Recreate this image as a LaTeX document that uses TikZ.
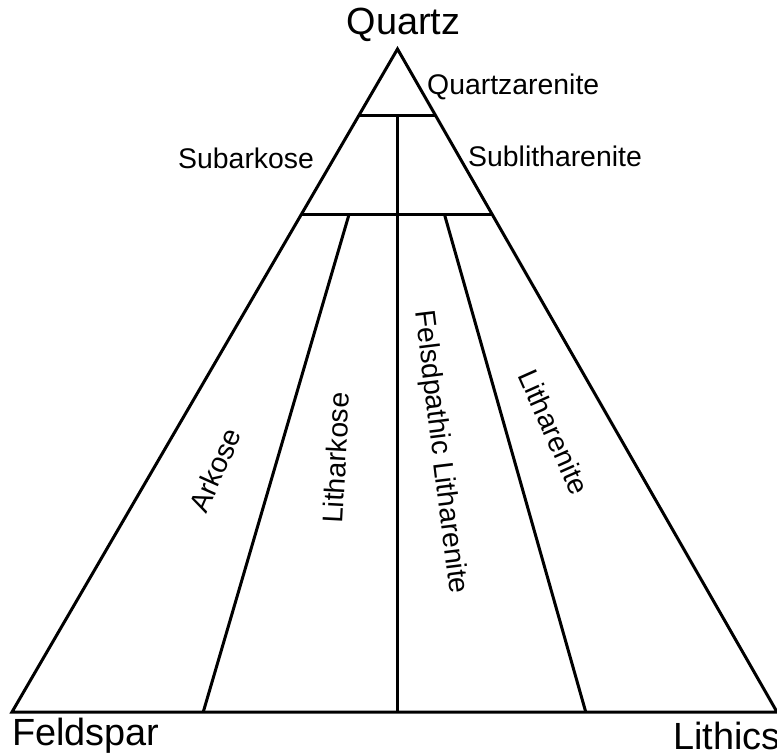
\documentclass[tikz,border=0pt]{standalone}
\usepackage{fontspec}
\setmainfont{Liberation Sans}
\usetikzlibrary{calc}
\tikzset{
  corner/.style={font=\fontsize{38}{40}\selectfont, inner sep=0pt},
  field/.style={font=\fontsize{28.5}{30}\selectfont, inner sep=0pt},
  bound/.style={line width=3bp, line join=miter}
}
\begin{document}
\begin{tikzpicture}[x=1bp, y=-1bp]
  \useasboundingbox (0,0) rectangle (777,755);
  \coordinate (Q) at (397.5,49);
  \coordinate (F) at (12,712);
  \coordinate (L) at (777,712);
  \coordinate (q90l) at ($(Q)!0.1!(F)$);
  \coordinate (q90r) at ($(Q)!0.1!(L)$);
  \coordinate (q75l) at ($(Q)!0.25!(F)$);
  \coordinate (q75r) at ($(Q)!0.25!(L)$);
  \coordinate (b25) at ($(F)!0.25!(L)$);
  \coordinate (b75) at ($(F)!0.75!(L)$);
  \coordinate (t25) at ($(Q)!0.25!(b25)$);
  \coordinate (t75) at ($(Q)!0.25!(b75)$);
  \draw [bound] (Q) -- (F) -- (L) -- cycle;
  \draw [bound] (q90l) -- (q90r);
  \draw [bound] (q75l) -- (q75r);
  \draw [bound] (Q |- q90l) -- (Q |- F);
  \draw [bound] (t25) -- (b25);
  \draw [bound] (t75) -- (b75);
  \node [corner, anchor=base] (quartz) at (403.5,35) {Quartz};
  \node [corner, anchor=base west] (feldspar) at (12,745) {Feldspar};
  \node [corner, anchor=base west] (lithics) at (673,749) {Lithics};
  \node [field, anchor=base west] (qarenite) at (427,94) {Quartzarenite};
  \node [field, anchor=base west] (subark) at (178,168) {Subarkose};
  \node [field, anchor=base west] (sublith) at (468,166) {Sublitharenite};
  \node [field, rotate=66] (arkose) at (215,470) {Arkose};
  \node [field, rotate=87] (litharkose) at (336,458) {Litharkose};
  \node [field, rotate=-83] (felslith) at (440,452) {Felsdpathic Litharenite};
  \node [field, rotate=-66] (litharenite) at (554,432) {Litharenite};
\end{tikzpicture}
\end{document}
